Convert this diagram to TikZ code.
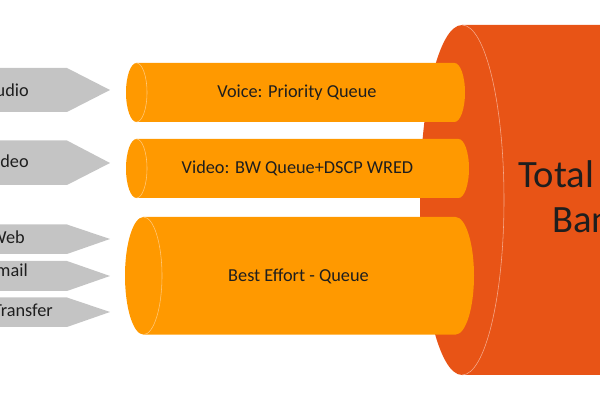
\documentclass[tikz,border=0pt]{standalone}
\usepackage{fontspec}
\setmainfont{Carlito}
\usepackage{tikz}
\definecolor{bandred}{RGB}{232,84,22}
\definecolor{bandrim}{RGB}{245,170,140}
\definecolor{queueorange}{RGB}{255,153,0}
\definecolor{queuerim}{RGB}{255,200,120}
\definecolor{flowgray}{RGB}{196,196,196}
\definecolor{inktext}{RGB}{30,30,30}

\begin{document}
\begin{tikzpicture}[scale=0.25]
	\tikzstyle{every node}+=[inner sep=0pt, text=inktext]
	\tikzstyle{queue}=[fill=queueorange]
	\tikzstyle{rim}=[draw=queuerim, line width=0.4pt]
	\tikzstyle{flow}=[fill=flowgray]
	\tikzstyle{label}=[font=\fontsize{13}{15}\selectfont]
	\useasboundingbox (0,0) rectangle (60,-40);
	\clip (0,0) rectangle (60,-40);
	% total bandwidth pipe
	\fill [bandred] (46.2,-2.5) arc (90:270:4.2 and 17.5) -- (61,-37.5) -- (61,-2.5) -- cycle;
	\draw [draw=bandrim, line width=0.4pt] (46.2,-2.5) arc (90:-90:4.2 and 17.5);
	\draw (51.8,-18.8) node [anchor=base west, font=\fontsize{27.5}{32}\selectfont] (total) {Total};
	\draw (55.2,-23.3) node [anchor=base west, font=\fontsize{27.5}{32}\selectfont] (band) {Ban};
	% queues
	\fill [queue] (13.65,-6.3) arc (90:270:1.05 and 2.95) -- (45.45,-12.2) arc (-90:90:1.05 and 2.95) -- cycle;
	\draw [rim] (13.65,-6.3) arc (90:-90:1.05 and 2.95);
	\draw (29.7,-9.25) node [label] (voice) {Voice: Priority Queue};
	\fill [queue] (13.65,-13.9) arc (90:270:1.05 and 2.95) -- (45.85,-19.8) arc (-90:90:1.05 and 2.95) -- cycle;
	\draw [rim] (13.65,-13.9) arc (90:-90:1.05 and 2.95);
	\draw (29.75,-16.85) node [label] (video) {Video: BW Queue+DSCP WRED};
	\fill [queue] (14.35,-21.7) arc (90:270:1.85 and 5.88) -- (45.55,-33.46) arc (-90:90:1.85 and 5.88) -- cycle;
	\draw [rim] (14.35,-21.7) arc (90:-90:1.85 and 5.88);
	\draw (29.85,-27.6) node [label] (best) {Best Effort - Queue};
	% traffic classes
	\fill [flow] (-1,-6.8) -- (6.7,-6.8) -- (11,-9) -- (6.7,-11.2) -- (-1,-11.2) -- cycle;
	\draw (2.9,-9.7) node [label, anchor=base east] (audio) {udio};
	\fill [flow] (-1,-14.05) -- (6.7,-14.05) -- (11,-16.3) -- (6.7,-18.5) -- (-1,-18.5) -- cycle;
	\draw (2.9,-16.8) node [label, anchor=base east] (vid) {ideo};
	\fill [flow] (-1,-22.45) -- (6.7,-22.45) -- (11,-23.9) -- (6.7,-25.4) -- (-1,-25.4) -- cycle;
	\draw (2.5,-24.4) node [label, anchor=base east] (web) {Web};
	\fill [flow] (-1,-26.1) -- (6.7,-26.1) -- (11,-27.6) -- (6.7,-29.1) -- (-1,-29.1) -- cycle;
	\draw (2.8,-27.7) node [label, anchor=base east] (email) {mail};
	\fill [flow] (-1,-29.75) -- (6.7,-29.75) -- (11,-31.2) -- (6.7,-32.7) -- (-1,-32.7) -- cycle;
	\draw (5.3,-31.7) node [label, anchor=base east] (transfer) {Transfer};
\end{tikzpicture}
\end{document}
